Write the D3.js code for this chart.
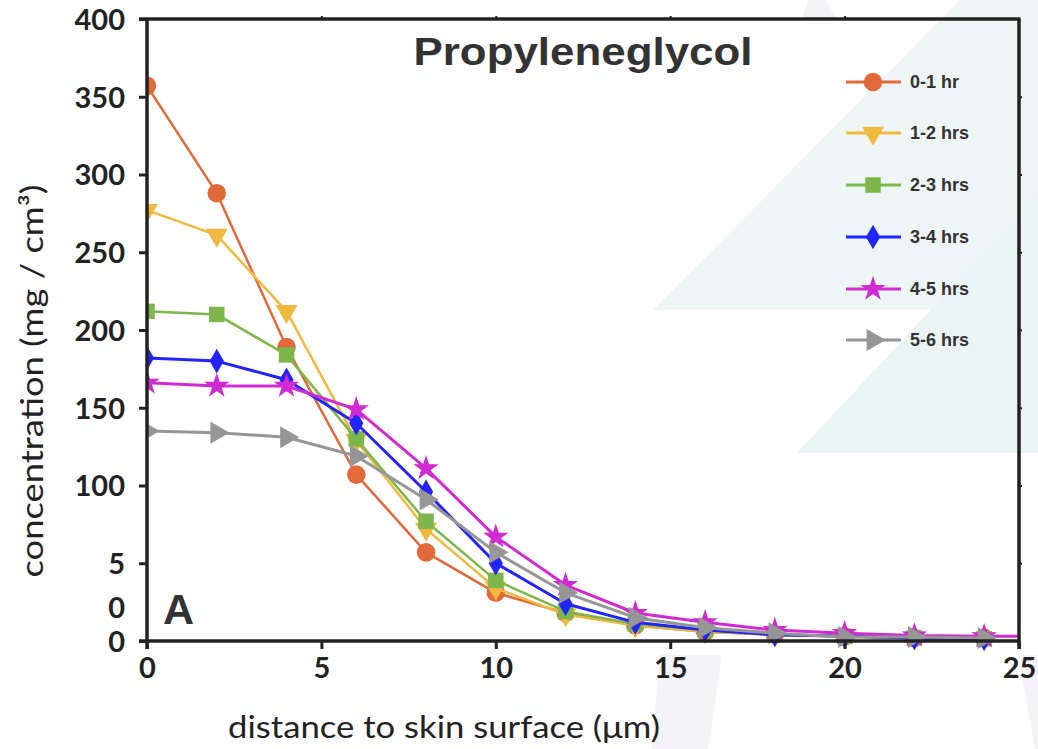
<!DOCTYPE html>
<html>
<head>
<meta charset="utf-8">
<script src="https://cdn.jsdelivr.net/npm/d3@7"></script>
<style>
  html, body { margin: 0; padding: 0; background: #fff; }
  svg { display: block; }
</style>
</head>
<body>
<svg id="chart" width="1038" height="749"></svg>
<script>
// ---------- data ----------
const distances = [0, 2, 4, 6, 8, 10, 12, 14, 16, 18, 20, 22, 24];
const seriesNames = ["0-1 hr", "1-2 hrs", "2-3 hrs", "3-4 hrs", "4-5 hrs", "5-6 hrs"];
const conc01 = [357, 288, 189, 107, 57, 31, 18, 10, 6, 4, 3, 2, 2];
const conc12 = [277, 261, 212, 129, 72, 34, 17, 10, 6, 4, 3, 2, 1.5];
const conc23 = [212, 210, 184, 130, 77, 39, 19, 11, 7, 4, 3, 2, 1.5];
const conc34 = [182, 180, 168, 140, 96, 50, 24, 12, 7, 4, 3, 2, 1.5];
const conc45 = [166, 164, 164, 149, 111, 67, 36, 18, 12, 7, 5, 3.5, 3];
const conc56 = [135, 134, 131, 119, 91, 57, 31, 15, 8.5, 5, 2.6, 2.5, 2];
const xTicks = [0, 5, 10, 15, 20, 25];
const yTicks = [0, 50, 100, 150, 200, 250, 300, 350, 400];
const yTickLabels = ["0", "5", "100", "150", "200", "250", "300", "350", "400"];
const strayYLabel = { value: 20.5, text: "0" };
const colors = ["#e2693a", "#f0b940", "#7db64a", "#2323fb", "#d22ad2", "#969696"];
const symbols = ["circle", "triDown", "square", "diamond", "star", "triRight"];
const chartTitle = "Propyleneglycol";
const panelLabel = "A";
const xTitle = "distance to skin surface (\u03bcm)";
const yTitle = "concentration  (mg / cm\u00b3)";

const seriesValues = [conc01, conc12, conc23, conc34, conc45, conc56];

// ---------- layout ----------
const svg = d3.select("#chart");
const L = 147, R = 1019, T = 19, B = 641;
const x = d3.scaleLinear().domain([0, 25]).range([L, R]);
const y = d3.scaleLinear().domain([0, 400]).range([B, T]);

// ---------- faint watermark background ----------
const bg = svg.append("g");
bg.append("polygon").attr("points", "653,310 960,0 1038,0 1038,310").attr("fill", "#eef6f5");
bg.append("polygon").attr("points", "797,453 1038,195 1038,453").attr("fill", "#eaf4f4");
bg.append("polygon").attr("points", "808,0 826,0 836,19 802,19").attr("fill", "#f3f3f8");
bg.append("polygon").attr("points", "660,655 722,655 708,749 652,749").attr("fill", "#f3f3f8");
bg.append("polygon").attr("points", "1018,655 1038,655 1038,749 1035,749").attr("fill", "#f3f3f8");

// ---------- symbols ----------
function symbolPath(kind) {
  switch (kind) {
    case "circle": return { d: d3.symbol().type(d3.symbolCircle).size(270)(), rot: 0 };
    case "triDown": return { d: d3.symbol().type(d3.symbolTriangle).size(210)(), rot: 180 };
    case "square": return { d: d3.symbol().type(d3.symbolSquare).size(240)(), rot: 0 };
    case "diamond": return { d: d3.symbol().type(d3.symbolDiamond).size(175)(), rot: 0 };
    case "star": return { d: d3.symbol().type(d3.symbolStar).size(200)(), rot: 0 };
    case "triRight": return { d: d3.symbol().type(d3.symbolTriangle).size(210)(), rot: 90 };
  }
}

// ---------- series ----------
svg.append("defs").append("clipPath").attr("id", "clip")
  .append("rect").attr("x", L).attr("y", T - 15).attr("width", R - L).attr("height", B - T + 30);

const plot = svg.append("g").attr("clip-path", "url(#clip)");
const line = d3.line().x(d => x(d[0])).y(d => y(d[1]));

seriesValues.forEach((vals, i) => {
  const pts = distances.map((dd, j) => [dd, vals[j]]);
  const g = plot.append("g");
  // the 4-5 hrs line continues to the right spine in the original
  const linePts = i === 4 ? pts.concat([[25, vals[vals.length - 1]]]) : pts;
  g.append("path").datum(linePts).attr("d", line)
    .attr("fill", "none").attr("stroke", colors[i]).attr("stroke-width", i >= 3 ? 3 : 2.5)
    .attr("stroke-linejoin", "round");
  const sp = symbolPath(symbols[i]);
  g.selectAll("path.m").data(pts).join("path").attr("class", "m")
    .attr("d", sp.d)
    .attr("transform", d => `translate(${x(d[0])},${y(d[1])}) rotate(${sp.rot})`)
    .attr("fill", colors[i]);
});

// ---------- axes / frame ----------
const axisColor = "#222";
const tickFont = "Lato, 'Open Sans', sans-serif";

const xAxis = d3.axisBottom(x).tickValues(xTicks).tickFormat(d3.format("d")).tickSize(8).tickPadding(8);
const gx = svg.append("g").attr("transform", `translate(0,${B})`).call(xAxis);
const yAxis = d3.axisLeft(y).tickValues(yTicks).tickFormat((d, i) => yTickLabels[i]).tickSize(8).tickPadding(14);
const gy = svg.append("g").attr("transform", `translate(${L},0)`).call(yAxis);

[gx, gy].forEach(g => {
  g.select(".domain").attr("stroke", axisColor).attr("stroke-width", 3.5);
  g.selectAll(".tick line").attr("stroke", axisColor).attr("stroke-width", 3);
  g.selectAll(".tick text").attr("fill", "#222").style("font-family", tickFont)
    .style("font-weight", "700").style("font-size", "29px");
});
gx.selectAll(".tick text").attr("dy", "0.72em");
gy.selectAll(".tick text").attr("dy", "0.36em");

// stray label as in the original
svg.append("text").attr("x", L - 22).attr("y", y(strayYLabel.value)).attr("dy", "0.3em")
  .attr("text-anchor", "end").attr("fill", "#222")
  .style("font-family", tickFont).style("font-weight", "700").style("font-size", "29px")
  .text(strayYLabel.text);

// top and right spines with small ticks
const topAxis = d3.axisTop(x).tickValues(xTicks.slice(1, 5)).tickSize(3).tickFormat("");
const gt = svg.append("g").attr("transform", `translate(0,${T})`).call(topAxis);
const rightAxis = d3.axisRight(y).tickValues(yTicks.slice(1, 8)).tickSize(3).tickFormat("");
const gr = svg.append("g").attr("transform", `translate(${R},0)`).call(rightAxis);
[gt, gr].forEach(g => {
  g.select(".domain").attr("stroke", axisColor).attr("stroke-width", 3.5);
  g.selectAll(".tick line").attr("stroke", axisColor).attr("stroke-width", 2);
});
gt.select(".domain").attr("d", `M${L - 8},0H${R + 1.5}`);
gr.select(".domain").attr("d", `M0,${T}V${B + 8}`);
gy.select(".domain").attr("d", `M0,${T}V${B + 8}`);
gx.select(".domain").attr("d", `M${-8 + L},0H${R}`);

// ---------- titles ----------
svg.append("text").attr("x", 583).attr("y", 65).attr("text-anchor", "middle")
  .attr("fill", "#333").style("font-family", "'Liberation Sans', Arial, sans-serif")
  .style("font-weight", "700").style("font-size", "39px")
  .attr("textLength", 339).attr("lengthAdjust", "spacingAndGlyphs")
  .text(chartTitle);

svg.append("text").attr("x", 163).attr("y", 624)
  .attr("fill", "#333").style("font-family", "'Liberation Sans', Arial, sans-serif")
  .style("font-weight", "700").style("font-size", "43px")
  .text(panelLabel);

svg.append("text").attr("x", 444).attr("y", 738).attr("text-anchor", "middle")
  .attr("fill", "#222").style("font-family", "Lato, 'Open Sans', sans-serif")
  .style("font-size", "30px").attr("textLength", 432).attr("lengthAdjust", "spacingAndGlyphs")
  .text(xTitle);

svg.append("text").attr("transform", `translate(43,381) rotate(-90)`).attr("text-anchor", "middle")
  .attr("fill", "#222").style("font-family", "Lato, 'Open Sans', sans-serif")
  .style("font-size", "30px").attr("textLength", 393).attr("lengthAdjust", "spacingAndGlyphs")
  .text(yTitle);

// ---------- legend ----------
const legendY = [82, 133, 185, 237, 289, 340];
const lg = svg.append("g");
seriesNames.forEach((name, i) => {
  const row = lg.append("g").attr("transform", `translate(846,${legendY[i]})`);
  row.append("line").attr("x1", 0).attr("x2", 55).attr("y1", 0).attr("y2", 0)
    .attr("stroke", colors[i]).attr("stroke-width", 3);
  const sp = symbolPath(symbols[i]);
  row.append("path").attr("d", sp.d).attr("transform", `translate(27,0) rotate(${sp.rot})`)
    .attr("fill", colors[i]);
  row.append("text").attr("x", 64).attr("y", 0).attr("dy", "0.36em")
    .attr("fill", "#333").style("font-family", "'Liberation Sans', Arial, sans-serif")
    .style("font-weight", "700").style("font-size", "18px").text(name);
});
</script>
</body>
</html>
